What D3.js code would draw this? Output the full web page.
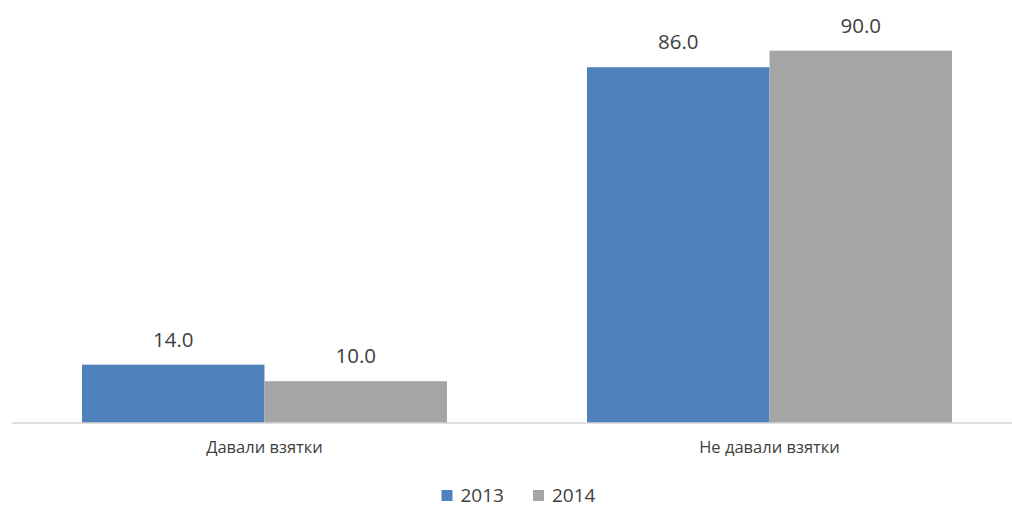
<!DOCTYPE html>
<html><head><meta charset="utf-8">
<script src="https://cdn.jsdelivr.net/npm/d3@7"></script>
<style>body{margin:0;background:#fff;}svg{display:block;}</style>
</head><body>
<svg id="c" width="1012" height="508"></svg>
<script>
const categories = ["Давали взятки", "Не давали взятки"];
const seriesNames = ["2013", "2014"];
const values2013 = [14.0, 86.0];
const values2014 = [10.0, 90.0];
const colors = ["#4f81bd", "#a5a5a5"];

const svg = d3.select("#c");
const baseY = 422.5, topY = 50.7;
const y = d3.scaleLinear().domain([0, 90]).range([baseY, topY]);
const x0 = d3.scaleBand().domain(categories).range([12, 1022]).paddingInner(0).paddingOuter(0);
const x1 = d3.scaleBand().domain(seriesNames).range([0, x0.bandwidth()]).paddingOuter(0.3836).paddingInner(0);

const data = categories.map((c, i) => ({cat: c, vals: [values2013[i], values2014[i]]}));

const g = svg.append("g");
data.forEach(d => {
  d.vals.forEach((v, j) => {
    const xs = x0(d.cat) + x1(seriesNames[j]);
    g.append("rect").attr("x", xs).attr("y", y(v)).attr("width", x1.bandwidth()).attr("height", baseY - y(v)).attr("fill", colors[j]);
    g.append("text").attr("x", xs + x1.bandwidth()/2).attr("y", y(v) - 18)
      .attr("text-anchor", "middle").attr("font-family", "Open Sans, sans-serif").attr("font-size", 20.5)
      .attr("fill", "#404040").text(v.toFixed(1));
  });
});

// axis
const axis = d3.axisBottom(x0).tickSize(0).tickPadding(19);
const ag = svg.append("g").attr("transform", `translate(0,${baseY})`).call(axis);
ag.select(".domain").attr("stroke", "#bfbfbf").attr("stroke-width", 1.2);
ag.selectAll("text").attr("font-family", "Open Sans, sans-serif").attr("font-size", 16.5).attr("fill", "#404040");

// legend
const leg = svg.append("g");
const legX = [441.5, 533];
seriesNames.forEach((s, j) => {
  leg.append("rect").attr("x", legX[j]).attr("y", 490).attr("width", 11).attr("height", 11).attr("fill", colors[j]);
  leg.append("text").attr("x", legX[j] + 19).attr("y", 502).attr("font-family", "Open Sans, sans-serif")
    .attr("font-size", 19).attr("fill", "#404040").text(s);
});
</script>
</body></html>
